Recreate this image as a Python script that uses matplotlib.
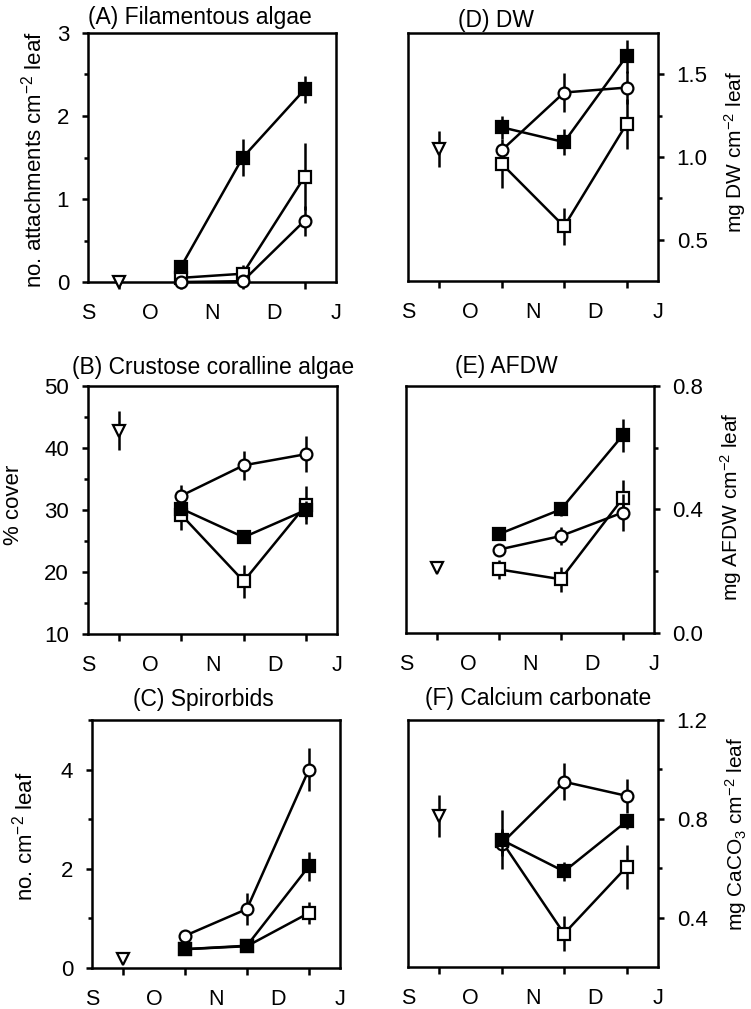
import matplotlib
matplotlib.use('Agg')
import matplotlib.pyplot as plt

plt.rcParams['font.family'] = ['Liberation Sans', 'DejaVu Sans']
plt.rcParams['mathtext.default'] = 'regular'

# x positions: month letters at 0..4, sampling dates halfway between
months = ['S', 'O', 'N', 'D', 'J']
tri_x = 0.5
dates_x = [1.5, 2.5, 3.5]

# (A) Filamentous algae
a_tri, a_tri_err = 0.0, 0.0
a_fsq = [0.18, 1.50, 2.32]
a_fsq_err = [0.03, 0.22, 0.16]
a_osq = [0.05, 0.10, 1.27]
a_osq_err = [0.02, 0.10, 0.40]
a_circ = [0.0, 0.01, 0.74]
a_circ_err = [0.0, 0.0, 0.18]

# (B) Crustose coralline algae
b_tri, b_tri_err = 42.8, 3.2
b_fsq = [30.2, 25.6, 30.0]
b_fsq_err = [1.0, 0.5, 1.5]
b_osq = [29.2, 18.5, 30.8]
b_osq_err = [2.5, 2.7, 3.0]
b_circ = [32.3, 37.2, 39.0]
b_circ_err = [1.8, 2.3, 2.9]

# (C) Spirorbids
c_tri, c_tri_err = 0.18, 0.0
c_fsq = [0.38, 0.45, 2.05]
c_fsq_err = [0.05, 0.05, 0.29]
c_osq = [0.38, 0.44, 1.11]
c_osq_err = [0.05, 0.05, 0.22]
c_circ = [0.65, 1.19, 4.0]
c_circ_err = [0.08, 0.33, 0.44]

# (D) DW
d_tri, d_tri_err = 1.05, 0.11
d_fsq = [1.18, 1.09, 1.61]
d_fsq_err = [0.07, 0.08, 0.10]
d_osq = [0.96, 0.58, 1.20]
d_osq_err = [0.15, 0.11, 0.15]
d_circ = [1.04, 1.39, 1.42]
d_circ_err = [0.04, 0.12, 0.10]

# (E) AFDW
e_tri, e_tri_err = 0.21, 0.0
e_fsq = [0.32, 0.40, 0.64]
e_fsq_err = [0.01, 0.02, 0.053]
e_osq = [0.206, 0.174, 0.436]
e_osq_err = [0.03, 0.04, 0.06]
e_circ = [0.27, 0.314, 0.39]
e_circ_err = [0.015, 0.03, 0.06]

# (F) Calcium carbonate
f_tri, f_tri_err = 0.81, 0.085
f_fsq = [0.715, 0.587, 0.79]
f_fsq_err = [0.12, 0.04, 0.03]
f_osq = [0.71, 0.335, 0.605]
f_osq_err = [0.05, 0.07, 0.09]
f_circ = [0.70, 0.95, 0.893]
f_circ_err = [0.05, 0.075, 0.07]

FS_TICK = 16
FS_MONTH = 15.5
FS_TITLE = 16.5

panels = [
    # rect, title, title_x, title_y, ylabel, label_xy, label size, ylim, major, minor, right, data
    ([0.117, 0.7205, 0.330, 0.2468], '(A) Filamentous algae', 0.0, 1.036,
     'no. attachments cm$^{-2}$ leaf', (-0.165, 0.49), 16, (0, 3), [0, 1, 2, 3],
     [0.5, 1.5, 2.5], False,
     (a_tri, a_tri_err, a_fsq, a_fsq_err, a_osq, a_osq_err, a_circ, a_circ_err)),
    ([0.117, 0.3717, 0.332, 0.2458], '(B) Crustose coralline algae', -0.064, 1.048,
     '% cover', (-0.255, 0.52), 16, (10, 50), [10, 20, 30, 40, 50],
     [15, 25, 35, 45], False,
     (b_tri, b_tri_err, b_fsq, b_fsq_err, b_osq, b_osq_err, b_circ, b_circ_err)),
    ([0.1225, 0.0406, 0.330, 0.2458], '(C) Spirorbids', 0.165, 1.056,
     'no. cm$^{-2}$ leaf', (-0.22, 0.53), 16, (0, 5), [0, 2, 4],
     [1, 3, 5], False,
     (c_tri, c_tri_err, c_fsq, c_fsq_err, c_osq, c_osq_err, c_circ, c_circ_err)),
    ([0.543, 0.7215, 0.333, 0.2458], '(D) DW', 0.2, 1.024,
     'mg DW cm$^{-2}$ leaf', (1.256, 0.52), 15, (0.25, 1.75), [0.5, 1.0, 1.5],
     [0.75, 1.25], True,
     (d_tri, d_tri_err, d_fsq, d_fsq_err, d_osq, d_osq_err, d_circ, d_circ_err)),
    ([0.5405, 0.3727, 0.330, 0.2448], '(E) AFDW', 0.2, 1.052,
     'mg AFDW cm$^{-2}$ leaf', (1.258, 0.51), 15, (0.0, 0.8), [0.0, 0.4, 0.8],
     [0.2, 0.6], True,
     (e_tri, e_tri_err, e_fsq, e_fsq_err, e_osq, e_osq_err, e_circ, e_circ_err)),
    ([0.543, 0.0416, 0.333, 0.2448], '(F) Calcium carbonate', 0.068, 1.06,
     'mg CaCO$_3$ cm$^{-2}$ leaf', (1.262, 0.54), 15, (0.2, 1.2), [0.4, 0.8, 1.2],
     [0.6, 1.0], True,
     (f_tri, f_tri_err, f_fsq, f_fsq_err, f_osq, f_osq_err, f_circ, f_circ_err)),
]

fig = plt.figure(figsize=(7.51, 10.09), dpi=100)

for (rect, title, tx, ty, ylabel, lxy, lsize, ylim, major, minor, right,
     data) in panels:
    ax = fig.add_axes(rect)
    tri, tri_err, fsq, fsq_err, osq, osq_err, circ, circ_err = data
    common = dict(color='black', ecolor='black', elinewidth=1.8, capsize=0,
                  linewidth=1.8, markeredgewidth=1.6, markeredgecolor='black',
                  clip_on=False)

    ax.errorbar(dates_x, osq, yerr=osq_err, marker='s', markersize=8,
                markerfacecolor='white', zorder=3, **common)
    ax.errorbar(dates_x, circ, yerr=circ_err, marker='o', markersize=8.5,
                markerfacecolor='white', zorder=4, **common)
    ax.errorbar(dates_x, fsq, yerr=fsq_err, marker='s', markersize=8,
                markerfacecolor='black', zorder=5, **common)
    ax.errorbar([tri_x], [tri], yerr=[tri_err], marker='v', markersize=8,
                markerfacecolor='white', linestyle='none', zorder=5, **common)

    ax.set_xlim(0, 4)
    ax.set_ylim(*ylim)

    ax.set_xticks([0.5, 1.5, 2.5, 3.5])
    ax.set_xticklabels([])
    ax.set_xticks([0, 1, 2, 3, 4], minor=True)
    ax.set_xticklabels(months, minor=True)
    ax.tick_params(axis='x', which='major', direction='out', length=5,
                   width=1.8)
    ax.tick_params(axis='x', which='minor', length=0, pad=15,
                   labelsize=FS_MONTH)

    ax.set_yticks(major)
    ax.set_yticks(minor, minor=True)
    ax.yaxis.set_major_formatter(
        plt.FormatStrFormatter('%.1f' if isinstance(major[1], float) else '%d'))
    if right:
        ax.yaxis.tick_right()
        ax.yaxis.set_label_position('right')
    ax.tick_params(axis='y', which='major', direction='out', length=4.5,
                   width=1.8, pad=9, labelsize=FS_TICK)
    ax.tick_params(axis='y', which='minor', direction='out', length=3,
                   width=1.8)

    for s in ax.spines.values():
        s.set_linewidth(1.8)

    ax.set_ylabel(ylabel, fontsize=lsize, rotation=90)
    ax.yaxis.set_label_coords(*lxy)
    ax.text(tx, ty, title, transform=ax.transAxes, fontsize=FS_TITLE,
            ha='left', va='baseline')

fig.savefig('out.png', dpi=100)
